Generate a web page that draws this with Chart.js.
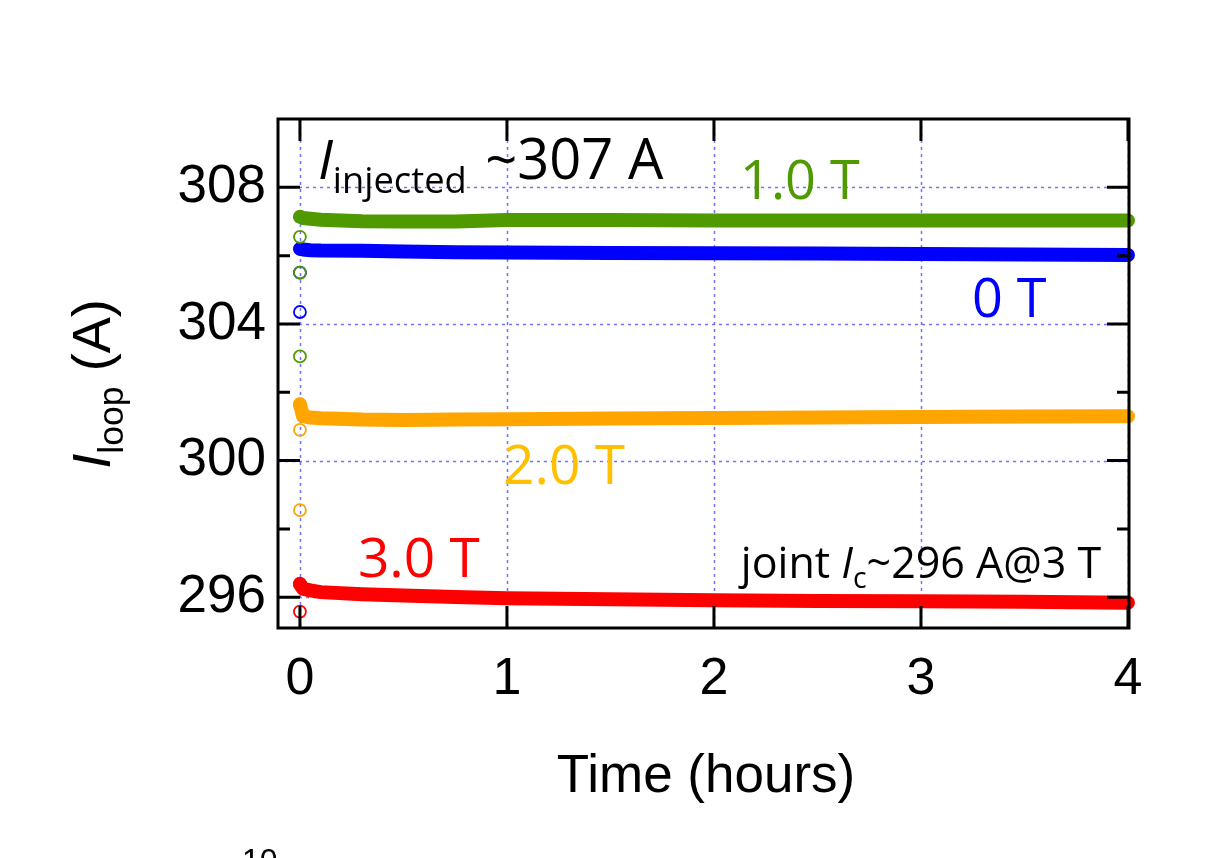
<!DOCTYPE html>
<html>
<head>
<meta charset="utf-8">
<script src="https://cdn.jsdelivr.net/npm/chart.js@4.4.0/dist/chart.umd.min.js"></script>
<style>
    html, body { margin: 0; padding: 0; background: #fff; }
    canvas { display: block; }
</style>
</head>
<body>
<canvas id="grafica" width="1215" height="858"></canvas>
<script>
// tiempo en horas
let tiempo = [0, 0.015, 0.05, 0.1, 0.3, 0.5, 0.75, 1, 1.5, 2, 2.5, 3, 3.5, 4]
// I_loop (A) para cada campo
let campo1T = [307.14, 307.1, 307.08, 307.05, 307.01, 307.0, 307.0, 307.04, 307.04, 307.03, 307.03, 307.03, 307.03, 307.03]
let campo0T = [306.2, 306.18, 306.16, 306.15, 306.14, 306.12, 306.1, 306.09, 306.08, 306.07, 306.06, 306.05, 306.03, 306.02]
let campo2T = [301.65, 301.3, 301.26, 301.24, 301.2, 301.19, 301.2, 301.21, 301.23, 301.25, 301.26, 301.28, 301.29, 301.3]
let campo3T = [296.38, 296.25, 296.2, 296.15, 296.09, 296.05, 296.01, 295.97, 295.94, 295.91, 295.89, 295.88, 295.87, 295.84]
// puntos del transitorio inicial (t = 0)
let transVerde = [306.55, 305.5, 303.05]
let transAzul = [305.5, 304.35]
let transNaranja = [301.65, 300.9, 298.55]
let transRojo = [296.4, 295.58]

let ticksX = [0, 1, 2, 3, 4]
let ticksY = [296, 300, 304, 308]
let ticksMenoresY = [298, 302, 306]

const verde = '#4f9a00'
const azul = '#0000ff'
const naranja = '#ffa500'
const rojo = '#ff0000'

function puntos(xs, ys) {
    return ys.map((v, i) => ({ x: xs[i], y: v }))
}
function puntosCero(ys) {
    return ys.map(v => ({ x: 0, y: v }))
}
function circulos(ys, color) {
    return {
        data: puntosCero(ys),
        showLine: false,
        clip: 10,
        pointStyle: 'circle',
        pointRadius: 6,
        pointBorderWidth: 1.8,
        pointBorderColor: color,
        pointBackgroundColor: 'rgba(0,0,0,0)'
    }
}
function linea(ys, color) {
    return {
        data: puntos(tiempo, ys),
        showLine: true,
        clip: 10,
        borderColor: color,
        borderWidth: 14,
        borderCapStyle: 'round',
        borderJoinStyle: 'round',
        pointRadius: 0,
        tension: 0
    }
}

// texto con subindice: partes [texto, italica, subindice]
function textoSub(ctx, partes, x, y, tam, familia, color) {
    ctx.fillStyle = color
    ctx.textBaseline = 'alphabetic'
    ctx.textAlign = 'left'
    let cx = x
    partes.forEach(p => {
        let t = p.sub ? tam * 0.66 : tam
        ctx.font = (p.it ? 'italic ' : 'normal ') + t + 'px ' + familia
        ctx.fillText(p.t, cx, p.sub ? y + tam * 0.24 : y)
        cx += ctx.measureText(p.t).width
    })
    return cx - x
}

// rejilla punteada
const rejilla = {
    id: 'rejilla',
    beforeDatasetsDraw(chart) {
        const ctx = chart.ctx
        const a = chart.chartArea
        const sx = chart.scales.x
        const sy = chart.scales.y
        ctx.save()
        ctx.strokeStyle = '#7272ff'
        ctx.lineWidth = 1.5
        ctx.setLineDash([3, 4])
        ctx.beginPath()
        ticksX.forEach(v => {
            let px = Math.round(sx.getPixelForValue(v)) + 0.5
            ctx.moveTo(px, a.top); ctx.lineTo(px, a.bottom)
        })
        ticksY.forEach(v => {
            let py = Math.round(sy.getPixelForValue(v)) + 0.5
            ctx.moveTo(a.left, py); ctx.lineTo(a.right, py)
        })
        ctx.stroke()
        ctx.restore()
    }
}

const marco = {
    id: 'marco',
    afterDraw(chart) {
        const ctx = chart.ctx
        const a = chart.chartArea
        const sx = chart.scales.x
        const sy = chart.scales.y
        ctx.save()
        ctx.strokeStyle = '#000'
        ctx.lineWidth = 3
        ctx.strokeRect(a.left, a.top, a.right - a.left, a.bottom - a.top)
        ctx.beginPath()
        ticksX.forEach(v => {
            let px = sx.getPixelForValue(v)
            ctx.moveTo(px, a.bottom); ctx.lineTo(px, a.bottom - 22)
            ctx.moveTo(px, a.top); ctx.lineTo(px, a.top + 22)
        })
        ticksY.forEach(v => {
            let py = sy.getPixelForValue(v)
            ctx.moveTo(a.left, py); ctx.lineTo(a.left + 22, py)
            ctx.moveTo(a.right, py); ctx.lineTo(a.right - 22, py)
        })
        ticksMenoresY.forEach(v => {
            let py = sy.getPixelForValue(v)
            ctx.moveTo(a.left, py); ctx.lineTo(a.left + 12, py)
            ctx.moveTo(a.right, py); ctx.lineTo(a.right - 12, py)
        })
        ctx.stroke()

        const fx = v => sx.getPixelForValue(v)
        const fy = v => sy.getPixelForValue(v)
        const fuente = '"Open Sans"'

        // anotaciones
        let w = textoSub(ctx, [{ t: 'I', it: true }, { t: 'injected', sub: true }], fx(0.087), fy(308.23), 55, fuente, '#000')
        textoSub(ctx, [{ t: ' ~307 A' }], fx(0.087) + w + 4, fy(308.23), 56, fuente, '#000')
        textoSub(ctx, [{ t: '1.0 T' }], fx(2.126), fy(307.65), 54, fuente, verde)
        textoSub(ctx, [{ t: '0 T' }], fx(3.246), fy(304.19), 54, fuente, azul)
        textoSub(ctx, [{ t: '2.0 T' }], fx(0.981), fy(299.31), 55, fuente, '#ffc000')
        textoSub(ctx, [{ t: '3.0 T' }], fx(0.28), fy(296.59), 55, fuente, rojo)
        textoSub(ctx, [{ t: 'joint ' }, { t: 'I', it: true }, { t: 'c', sub: true }, { t: '~296 A@3 T' }], fx(2.13), fy(296.56), 43, fuente, '#000')

        // titulos de ejes
        ctx.fillStyle = '#000'
        ctx.font = 'normal 53px "Liberation Sans"'
        ctx.textAlign = 'center'
        ctx.fillText('Time (hours)', 706, 792)

        ctx.translate(110, 384)
        ctx.rotate(-Math.PI / 2)
        let partesY = [{ t: 'I', it: true }, { t: 'loop', sub: true }, { t: ' (A)' }]
        let ancho = 0
        partesY.forEach(p => {
            ctx.font = (p.it ? 'italic ' : 'normal ') + (p.sub ? 54 * 0.66 : 54) + 'px "Liberation Sans"'
            ancho += ctx.measureText(p.t).width
        })
        textoSub(ctx, partesY, -ancho / 2, 0, 54, '"Liberation Sans"', '#000')
        ctx.restore()

        // resto de la figura de abajo (recortada)
        ctx.save()
        ctx.fillStyle = '#000'
        ctx.font = 'normal 32px "Liberation Sans"'
        ctx.textAlign = 'left'
        ctx.fillText('10', 242, 871)
        ctx.restore()
    }
}

const config = {
    type: 'scatter',
    data: {
        datasets: [
            circulos(transVerde, verde),
            circulos(transAzul, azul),
            circulos(transNaranja, naranja),
            circulos(transRojo, rojo),
            linea(campo1T, verde),
            linea(campo0T, azul),
            linea(campo2T, naranja),
            linea(campo3T, rojo)
        ]
    },
    options: {
        responsive: false,
        animation: false,
        layout: { padding: { left: 0, top: 119, right: 86, bottom: 0 } },
        plugins: {
            legend: { display: false },
            tooltip: { enabled: false }
        },
        scales: {
            x: {
                type: 'linear',
                min: -0.106,
                max: 4.005,
                afterBuildTicks: s => { s.ticks = ticksX.map(v => ({ value: v })) },
                afterFit: s => { s.height = 230 },
                ticks: {
                    color: '#000',
                    padding: 20,
                    font: { family: '"Liberation Sans"', size: 52 },
                    callback: v => String(v)
                },
                grid: { display: false, drawTicks: false },
                border: { display: false }
            },
            y: {
                type: 'linear',
                min: 295.1,
                max: 310,
                afterBuildTicks: s => { s.ticks = ticksY.map(v => ({ value: v })) },
                afterFit: s => { s.width = 278 },
                ticks: {
                    color: '#000',
                    padding: 12,
                    font: { family: '"Liberation Sans"', size: 53 },
                    callback: v => String(v)
                },
                grid: { display: false, drawTicks: false },
                border: { display: false }
            }
        }
    },
    plugins: [rejilla, marco]
}

let miGrafica = new Chart(document.getElementById('grafica'), config)
</script>
</body>
</html>
